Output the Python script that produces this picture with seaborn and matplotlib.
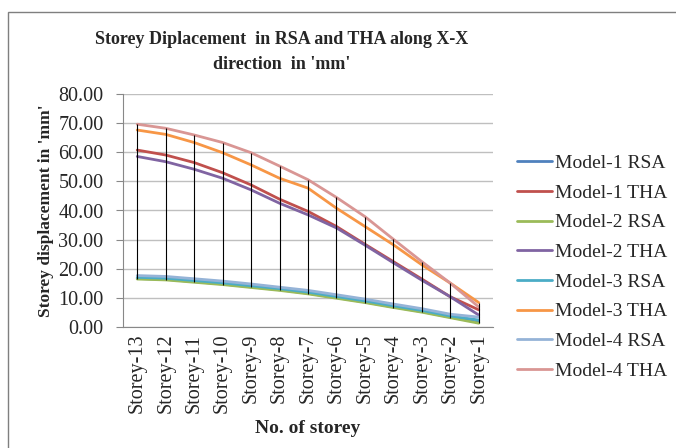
import matplotlib
matplotlib.use("Agg")
import matplotlib.pyplot as plt
from matplotlib.patches import Rectangle
import seaborn as sns
import pandas as pd
import numpy as np

storeys = ["Storey-13", "Storey-12", "Storey-11", "Storey-10", "Storey-9", "Storey-8",
           "Storey-7", "Storey-6", "Storey-5", "Storey-4", "Storey-3", "Storey-2", "Storey-1"]

m1_rsa = [16.6, 16.3, 15.5, 14.7, 13.7, 12.7, 11.5, 10.0, 8.5, 6.8, 5.2, 3.3, 1.5]
m1_tha = [60.8, 59.1, 56.5, 53.0, 48.8, 43.9, 39.7, 34.5, 28.4, 22.4, 16.4, 10.3, 5.8]
m2_rsa = [16.4, 16.1, 15.3, 14.5, 13.5, 12.5, 11.3, 9.8, 8.3, 6.6, 5.0, 3.1, 1.2]
m2_tha = [58.6, 56.8, 54.2, 51.1, 47.1, 42.5, 38.5, 34.0, 28.1, 22.0, 16.0, 10.3, 4.0]
m3_rsa = [17.0, 16.7, 15.9, 15.1, 14.1, 13.1, 11.9, 10.4, 8.9, 7.2, 5.6, 3.7, 2.3]
m3_tha = [67.7, 66.2, 63.4, 59.9, 55.7, 51.1, 47.7, 40.8, 34.5, 28.2, 21.3, 15.0, 8.3]
m4_rsa = [17.6, 17.3, 16.5, 15.7, 14.7, 13.6, 12.5, 11.0, 9.5, 7.8, 6.2, 4.3, 3.3]
m4_tha = [69.7, 68.3, 66.0, 63.4, 59.9, 55.3, 50.6, 44.5, 37.9, 30.1, 22.4, 15.0, 6.8]

series = {
    "Model-1 RSA": m1_rsa, "Model-1 THA": m1_tha,
    "Model-2 RSA": m2_rsa, "Model-2 THA": m2_tha,
    "Model-3 RSA": m3_rsa, "Model-3 THA": m3_tha,
    "Model-4 RSA": m4_rsa, "Model-4 THA": m4_tha,
}
colors = ["#4F81BD", "#C0504D", "#9BBB59", "#8064A2",
          "#4BACC6", "#F79646", "#95B3D7", "#D99694"]

rows = []
for name, vals in series.items():
    for s, v in zip(storeys, vals):
        rows.append({"storey": s, "disp": v, "series": name})
df = pd.DataFrame(rows)

sns.set_style("white")
plt.rcParams["font.family"] = ["Liberation Serif", "DejaVu Serif"]

fig = plt.figure(figsize=(6.76, 4.48), dpi=100)
ax = fig.add_axes([123 / 676, 1 - 326.7 / 448, 370 / 676, 232.4 / 448])

sns.lineplot(data=df, x="storey", y="disp", hue="series", palette=colors,
             sort=False, linewidth=2.0, ax=ax, zorder=3)

# drop lines from highest to lowest series
allv = np.array(list(series.values()))
ax.vlines(np.arange(len(storeys)), allv.min(axis=0), allv.max(axis=0),
          colors="black", linewidth=0.8, zorder=4)

ax.set_xlim(-0.5, len(storeys) - 0.5)
ax.set_ylim(0, 80)
ax.set_yticks(np.arange(0, 81, 10))
ax.set_yticklabels([f"{v:.2f}" for v in np.arange(0, 81, 10)], fontsize=14.5)
ax.tick_params(axis="x", labelrotation=90, labelsize=14.5, length=0, pad=5)
ax.tick_params(axis="y", length=5, width=0.8, color="#888888", pad=9, left=True)
ax.grid(axis="y", color="#BFBFBF", linewidth=1.0)
ax.set_axisbelow(True)
for side in ["top", "right"]:
    ax.spines[side].set_visible(False)
for side in ["left", "bottom"]:
    ax.spines[side].set_color("#888888")
    ax.spines[side].set_linewidth(0.8)

ax.set_xlabel("No. of storey", fontsize=14, fontweight="bold", labelpad=5)
ax.set_ylabel("Storey displacement in 'mm'", fontsize=12.5, fontweight="bold", labelpad=3)

fig.text(282 / 676, 1 - 52 / 448, "Storey Diplacement  in RSA and THA along X-X\ndirection  in 'mm'",
         ha="center", va="center", fontsize=13, fontweight="bold", linespacing=1.65)

ax.legend_.remove()
handles, labels = ax.get_legend_handles_labels()
fig.legend(handles, labels, loc="center left", bbox_to_anchor=(509 / 676, 1 - 267 / 448),
           frameon=False, fontsize=14, handlelength=1.8, handletextpad=0.15,
           labelspacing=0.62, borderaxespad=0)

fig.patches.append(Rectangle((8 / 676, -0.1), 1.2, 1.1 - 12 / 448,
                             transform=fig.transFigure, fill=False,
                             edgecolor="#7F7F7F", linewidth=1.0))

fig.savefig("out.png", dpi=100)
